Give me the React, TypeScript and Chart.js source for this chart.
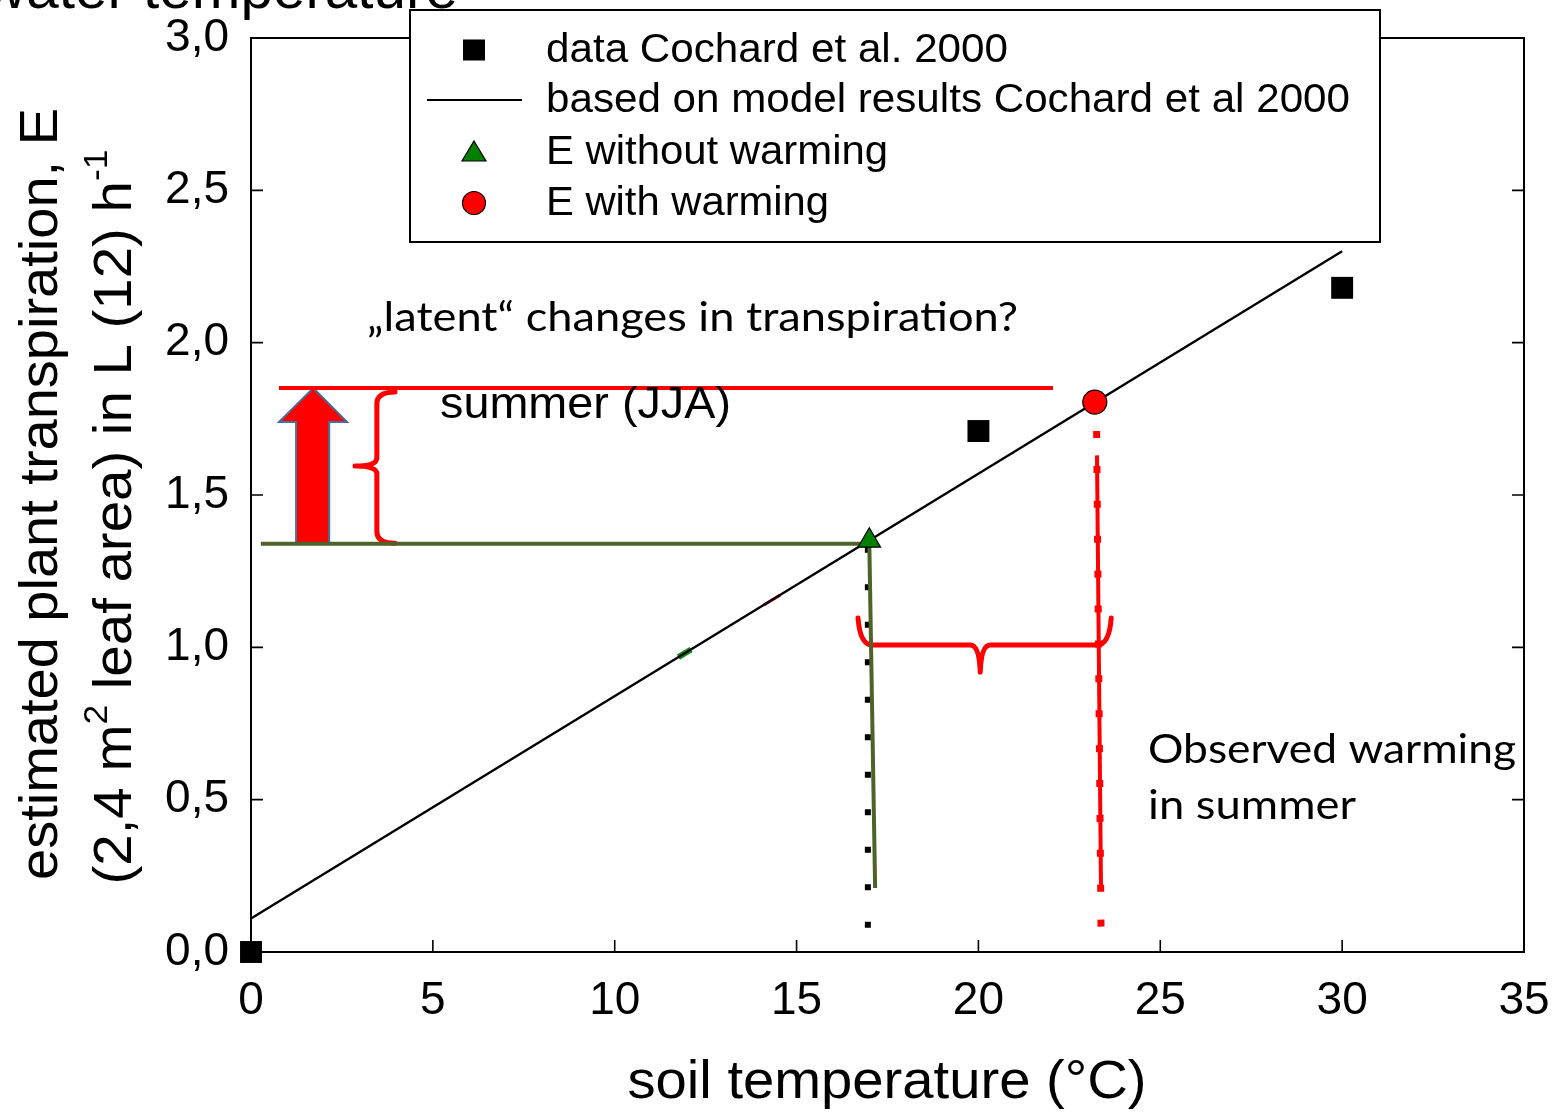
import React, { useEffect, useRef } from "react";
import { Chart, registerables } from "chart.js";

Chart.register(...registerables);

// ---- data (soil temperature °C, transpiration E) ----
const cochardT = [0, 20, 30];
const cochardE = [0, 1.71, 2.18];
const modelT = [0, 30];
const modelE = [0.11, 2.3];
const withoutT = [17.0];
const withoutE = [1.35];
const withT = [23.2];
const withE = [1.805];
const greenHT = [0.27, 17.0];
const greenHE = [1.34, 1.34];
const greenVT = [17.0, 17.16];
const greenVE = [1.34, 0.21];
const blackDotT = [16.96, 16.96];
const blackDotE = [1.33, 0.08];
const redHT = [0.77, 22.05];
const redHE = [1.851, 1.851];
const redVT = [23.26, 23.37];
const redVE = [1.63, 0.21];
const redDotT = [23.25, 23.37];
const redDotE = [1.71, 0.08];
const greenBlobT = [11.75, 12.1];
const greenBlobE = [0.968, 0.993];
const redBitT = [14.1, 14.55];
const redBitE = [1.139, 1.172];

// annotation geometry (data units)
const hBraceT = [16.69, 20.05, 23.65]; // left end, tip, right end
const hBraceE = [1.096, 1.008, 0.919]; // end tops, bar, tip
const vBraceT = [3.96, 3.46, 2.86]; // curl end, bar, tip
const vBraceE = [1.838, 1.595, 1.342]; // top, tip, bottom
const arrowT = [0.77, 1.24, 1.71, 2.15, 2.64]; // head l, shaft l, tip, shaft r, head r
const arrowE = [1.851, 1.74, 1.342]; // tip, head base, bottom

const xTicks = [0, 5, 10, 15, 20, 25, 30, 35];
const yTicks = [0, 0.5, 1.0, 1.5, 2.0, 2.5, 3.0];

const legendLabels = [
  "data Cochard et al. 2000",
  "based on model results Cochard et al 2000",
  "E without warming",
  "E with warming",
];

const ARIAL = "'Liberation Sans', Arial, sans-serif";
const CALIBRI = "Lato, 'Open Sans', sans-serif";
const OLIVE = "#4f6228";
const RED = "#ff0000";

const pts = (t: number[], e: number[]) => t.map((x, i) => ({ x, y: e[i] }));

function drawFit(
  ctx: CanvasRenderingContext2D,
  text: string,
  x: number,
  y: number,
  font: string,
  targetW: number,
  align: CanvasTextAlign = "left",
  baseline: CanvasTextBaseline = "middle"
) {
  ctx.font = font;
  const w = ctx.measureText(text).width;
  const s = targetW / w;
  ctx.save();
  ctx.translate(x, y);
  ctx.scale(s, 1);
  ctx.textAlign = align;
  ctx.textBaseline = baseline;
  ctx.fillText(text, 0, 0);
  ctx.restore();
}

const annot = {
  id: "annot",
  beforeDatasetsDraw(chart: any) {
    const ctx: CanvasRenderingContext2D = chart.ctx;
    const xs = chart.scales.x;
    const ys = chart.scales.y;
    const { left, right, top, bottom } = chart.chartArea;
    const X = (v: number) => xs.getPixelForValue(v);
    const Y = (v: number) => ys.getPixelForValue(v);
    ctx.save();
    // frame
    ctx.strokeStyle = "#000";
    ctx.lineWidth = 2;
    ctx.strokeRect(left, top, right - left, bottom - top);
    // inward ticks
    ctx.lineWidth = 1.6;
    ctx.beginPath();
    xTicks.forEach((t) => {
      const px = X(t);
      ctx.moveTo(px, bottom);
      ctx.lineTo(px, bottom - 12);
      ctx.moveTo(px, top);
      ctx.lineTo(px, top + 12);
    });
    yTicks.forEach((e) => {
      const py = Y(e);
      ctx.moveTo(left, py);
      ctx.lineTo(left + 12, py);
      ctx.moveTo(right, py);
      ctx.lineTo(right - 12, py);
    });
    ctx.stroke();

    // block arrow
    const [hl, sl, , sr, hr] = arrowT.map(X);
    const [ty, hb, by] = arrowE.map(Y);
    ctx.beginPath();
    ctx.moveTo(X(arrowT[2]), ty);
    ctx.lineTo(hr, hb);
    ctx.lineTo(sr, hb);
    ctx.lineTo(sr, by);
    ctx.lineTo(sl, by);
    ctx.lineTo(sl, hb);
    ctx.lineTo(hl, hb);
    ctx.closePath();
    ctx.fillStyle = RED;
    ctx.fill();
    ctx.strokeStyle = "#41719c";
    ctx.lineWidth = 2;
    ctx.stroke();

    // horizontal brace
    ctx.strokeStyle = RED;
    ctx.lineWidth = 5;
    ctx.lineCap = "round";
    ctx.lineJoin = "round";
    const hl2 = X(hBraceT[0]);
    const hm = X(hBraceT[1]);
    const hr2 = X(hBraceT[2]);
    const eTop = Y(hBraceE[0]);
    const eBar = Y(hBraceE[1]);
    const eTip = Y(hBraceE[2]);
    ctx.beginPath();
    ctx.moveTo(hl2, eTop);
    ctx.quadraticCurveTo(hl2 + 2, eBar, hl2 + 14, eBar);
    ctx.lineTo(hm - 10, eBar);
    ctx.quadraticCurveTo(hm - 1, eBar, hm, eTip);
    ctx.moveTo(hm, eTip);
    ctx.quadraticCurveTo(hm + 1, eBar, hm + 10, eBar);
    ctx.lineTo(hr2 - 14, eBar);
    ctx.quadraticCurveTo(hr2 - 2, eBar, hr2, eTop);
    ctx.stroke();

    // vertical brace
    const vEnd = X(vBraceT[0]);
    const vBar = X(vBraceT[1]);
    const vTip = X(vBraceT[2]);
    const vt = Y(vBraceE[0]);
    const vm = Y(vBraceE[1]);
    const vb = Y(vBraceE[2]);
    ctx.beginPath();
    ctx.moveTo(vEnd, vt);
    ctx.quadraticCurveTo(vBar, vt, vBar, vt + 12);
    ctx.lineTo(vBar, vm - 8);
    ctx.quadraticCurveTo(vBar, vm, vTip, vm);
    ctx.moveTo(vTip, vm);
    ctx.quadraticCurveTo(vBar, vm, vBar, vm + 8);
    ctx.lineTo(vBar, vb - 12);
    ctx.quadraticCurveTo(vBar, vb, vEnd, vb);
    ctx.stroke();
    ctx.restore();
  },
  afterDraw(chart: any) {
    const ctx: CanvasRenderingContext2D = chart.ctx;
    ctx.save();
    ctx.fillStyle = "#000";

    // cut-off heading at the very top
    drawFit(ctx, "water temperature", -16, 8, `58px ${ARIAL}`, 474, "left", "alphabetic");

    // annotations text
    drawFit(ctx, "\u201Elatent\u201C changes in transpiration?", 367, 318, `40px ${CALIBRI}`, 651);
    drawFit(ctx, "summer (JJA)", 440, 406, `44px ${ARIAL}`, 291);
    drawFit(ctx, "Observed warming", 1148, 750, `40px ${CALIBRI}`, 368);
    drawFit(ctx, "in summer", 1148, 806, `40px ${CALIBRI}`, 208);

    // x axis title
    drawFit(ctx, "soil temperature (\u00B0C)", 887, 1083, `54px ${ARIAL}`, 519, "center");

    // y axis title line 1
    ctx.save();
    ctx.translate(42, 494);
    ctx.rotate(-Math.PI / 2);
    drawFit(ctx, "estimated plant transpiration, E", 0, 0, `54px ${ARIAL}`, 772, "center");
    ctx.restore();

    // y axis title line 2 with superscripts
    const segs = [
      { t: "(2,4 m", sup: false },
      { t: "2", sup: true },
      { t: " leaf area) in L (12) h", sup: false },
      { t: "-1", sup: true },
    ];
    const mainF = `54px ${ARIAL}`;
    const supF = `34px ${ARIAL}`;
    let total = 0;
    const widths = segs.map((s) => {
      ctx.font = s.sup ? supF : mainF;
      const w = ctx.measureText(s.t).width;
      total += w;
      return w;
    });
    ctx.save();
    ctx.translate(112, 517);
    ctx.rotate(-Math.PI / 2);
    ctx.scale(735 / total, 1);
    ctx.textBaseline = "alphabetic";
    ctx.textAlign = "left";
    let cx = -total / 2;
    segs.forEach((s, i) => {
      ctx.font = s.sup ? supF : mainF;
      ctx.fillText(s.t, cx, s.sup ? -5 : 19);
      cx += widths[i];
    });
    ctx.restore();

    // legend box
    const lx = 410, ly = 10, lw = 970, lh = 232;
    ctx.fillStyle = "#fff";
    ctx.fillRect(lx, ly, lw, lh);
    ctx.strokeStyle = "#000";
    ctx.lineWidth = 2;
    ctx.strokeRect(lx, ly, lw, lh);
    const rows = [50, 100, 152, 203];
    const mx = 474;
    ctx.fillStyle = "#000";
    ctx.fillRect(mx - 11, rows[0] - 10.5, 22, 21);
    ctx.beginPath();
    ctx.moveTo(427, rows[1]);
    ctx.lineTo(522, rows[1]);
    ctx.lineWidth = 2;
    ctx.stroke();
    ctx.beginPath();
    ctx.moveTo(mx, rows[2] - 11);
    ctx.lineTo(mx + 12, rows[2] + 9);
    ctx.lineTo(mx - 12, rows[2] + 9);
    ctx.closePath();
    ctx.fillStyle = "#008000";
    ctx.fill();
    ctx.lineWidth = 1.2;
    ctx.stroke();
    ctx.beginPath();
    ctx.arc(mx, rows[3], 11.5, 0, Math.PI * 2);
    ctx.fillStyle = RED;
    ctx.fill();
    ctx.lineWidth = 1.2;
    ctx.stroke();
    ctx.fillStyle = "#000";
    const tw = [462, 804, 342, 283];
    legendLabels.forEach((t, i) => drawFit(ctx, t, 546, rows[i] + 1, `40px ${ARIAL}`, tw[i]));
    ctx.restore();
  },
};

export default function App() {
  const ref = useRef<HTMLCanvasElement | null>(null);
  useEffect(() => {
    if (!ref.current) return;
    const lineDs = (data: any, color: string, width: number, extra: any = {}) => ({
      data,
      showLine: true,
      borderColor: color,
      backgroundColor: color,
      borderWidth: width,
      pointRadius: 0,
      pointHoverRadius: 0,
      clip: false,
      ...extra,
    });
    const chart = new Chart(ref.current, {
      type: "scatter",
      data: {
        datasets: [
          {
            label: "E without warming",
            data: pts(withoutT, withoutE),
            pointStyle: "triangle",
            radius: 13,
            backgroundColor: "#008000",
            borderColor: "#000",
            borderWidth: 1.2,
            clip: false,
          } as any,
          {
            label: "E with warming",
            data: pts(withT, withE),
            pointStyle: "circle",
            radius: 12,
            backgroundColor: RED,
            borderColor: "#000",
            borderWidth: 1.2,
            clip: false,
          },
          {
            label: "data Cochard et al. 2000",
            data: pts(cochardT, cochardE),
            pointStyle: "rect",
            radius: 15.5,
            backgroundColor: "#000",
            borderWidth: 0,
            clip: false,
          },
          lineDs(pts(greenVT, greenVE), OLIVE, 4),
          lineDs(pts(redDotT, redDotE), RED, 7, { borderDash: [7, 27.9] }),
          lineDs(pts(redVT, redVE), RED, 4),
          lineDs(pts(blackDotT, blackDotE), "#000", 6, { borderDash: [6, 31.5] }),
          lineDs(pts(modelT, modelE), "#000", 2.4),
          lineDs(pts(greenHT, greenHE), OLIVE, 4),
          lineDs(pts(redHT, redHE), RED, 4),
          lineDs(pts(greenBlobT, greenBlobE), "#1a8a1a", 6),
          lineDs(pts(redBitT, redBitE), RED, 3),
        ],
      },
      options: {
        animation: false,
        responsive: false,
        events: [],
        layout: { padding: { top: 38, right: 32, left: 0, bottom: 0 } },
        plugins: { legend: { display: false }, tooltip: { enabled: false } },
        scales: {
          x: {
            type: "linear",
            min: 0,
            max: 35,
            afterFit: (s: any) => {
              s.height = 160;
              s.paddingLeft = 0;
              s.paddingRight = 0;
            },
            afterBuildTicks: (s: any) => {
              s.ticks = xTicks.map((v) => ({ value: v }));
            },
            ticks: {
              color: "#000",
              font: { family: ARIAL, size: 46 },
              padding: 22,
              maxRotation: 0,
              callback: (v: any) => String(v),
            },
            grid: { display: false, drawTicks: false },
            border: { display: false },
          },
          y: {
            type: "linear",
            min: 0,
            max: 3,
            afterFit: (s: any) => {
              s.width = 251;
              s.paddingTop = 0;
              s.paddingBottom = 0;
            },
            afterBuildTicks: (s: any) => {
              s.ticks = yTicks.map((v) => ({ value: v }));
            },
            ticks: {
              color: "#000",
              font: { family: ARIAL, size: 46 },
              padding: 22,
              callback: (v: any) => Number(v).toFixed(1).replace(".", ","),
            },
            grid: { display: false, drawTicks: false },
            border: { display: false },
          },
        },
      },
      plugins: [annot],
    });
    let alive = true;
    if ((document as any).fonts && (document as any).fonts.load) {
      Promise.all([
        (document as any).fonts.load(`40px Lato`),
        (document as any).fonts.load(`40px 'Liberation Sans'`),
      ])
        .then(() => {
          if (alive) chart.update();
        })
        .catch(() => {});
    }
    return () => {
      alive = false;
      chart.destroy();
    };
  }, []);
  return (
    <div style={{ position: "absolute", left: 0, top: 0, width: 1556, height: 1112, background: "#fff" }}>
      <canvas ref={ref} width={1556} height={1112} style={{ display: "block" }} />
    </div>
  );
}
